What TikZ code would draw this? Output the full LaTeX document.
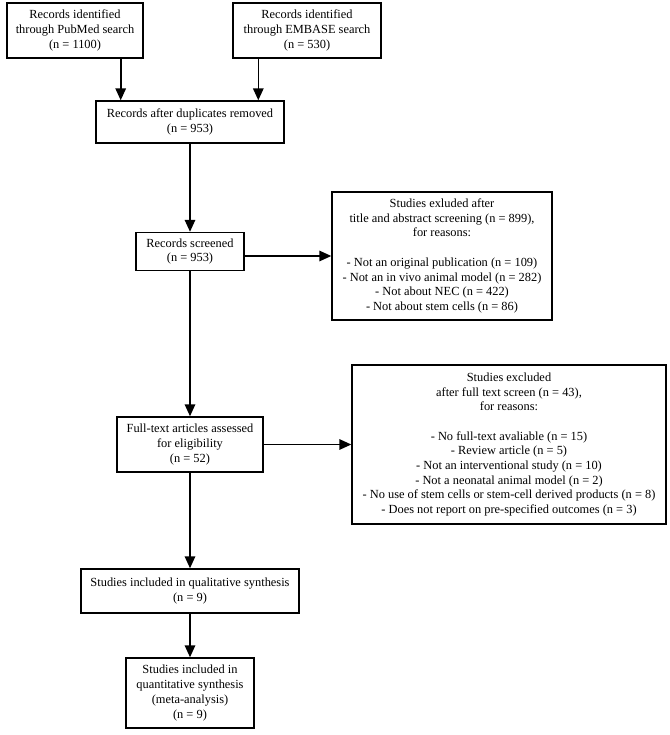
\documentclass[tikz,border=0pt]{standalone}
\usepackage{fontspec}
\setmainfont{Liberation Serif}
\usetikzlibrary{arrows.meta}
\tikzset{
  box/.style={draw, line width=1.4pt, align=center, inner sep=0pt,
    font=\fontsize{12.4}{14.7}\selectfont},
  arr/.style={line width=1.6pt, -{Triangle[length=12pt,width=10.5pt]}}
}
\begin{document}
\begin{tikzpicture}[x=1pt,y=-1pt]
\useasboundingbox (0,0) rectangle (669,735);
\node[box, minimum width=136pt, minimum height=55pt] (pub) at (75,30.5)
  {Records identified\\through PubMed search\\(n = 1100)};
\node[box, minimum width=148pt, minimum height=55pt] (emb) at (307,30.5)
  {Records identified\\through EMBASE search\\(n = 530)};
\node[box, minimum width=188pt, minimum height=42pt] (dup) at (190,122)
  {Records after duplicates removed\\(n = 953)};
\node[box, minimum width=108pt, minimum height=38pt] (scr) at (190,251.5)
  {Records screened\\(n = 953)};
\node[box, minimum width=220pt, minimum height=128pt] (ex1) at (442,256)
  {Studies exluded after\\title and abstract screening (n = 899),\\for reasons:\\[14.7pt]
   - Not an original publication (n = 109)\\- Not an in vivo animal model (n = 282)\\
   - Not about NEC (n = 422)\\- Not about stem cells (n = 86)};
\node[box, minimum width=146pt, minimum height=55pt] (ft) at (190,444.5)
  {Full-text articles assessed\\for eligibility\\(n = 52)};
\node[box, minimum width=314pt, minimum height=159pt] (ex2) at (509,444.5)
  {Studies excluded\\after full text screen (n = 43),\\for reasons:\\[14.7pt]
   - No full-text avaliable (n = 15)\\- Review article (n = 5)\\
   - Not an interventional study (n = 10)\\- Not a neonatal animal model (n = 2)\\
   - No use of stem cells or stem-cell derived products (n = 8)\\
   - Does not report on pre-specified outcomes (n = 3)};
\node[box, minimum width=218pt, minimum height=44pt] (qual) at (190,591)
  {Studies included in qualitative synthesis\\(n = 9)};
\node[box, minimum width=128pt, minimum height=70pt] (quant) at (190,693)
  {Studies included in\\quantitative synthesis\\(meta-analysis)\\(n = 9)};
\draw[arr] ([xshift=-23pt]pub.south east) -- ([xshift=-23pt]pub.south east |- dup.north);
\draw[arr] ([xshift=26pt]emb.south west) -- ([xshift=26pt]emb.south west |- dup.north);
\draw[arr] (dup) -- (scr);
\draw[arr] (scr.east |- ex1.west) -- (ex1.west);
\draw[arr] (scr) -- (ft);
\draw[arr] (ft) -- (ex2);
\draw[arr] (ft) -- (qual);
\draw[arr] (qual) -- (quant);
\end{tikzpicture}
\end{document}
